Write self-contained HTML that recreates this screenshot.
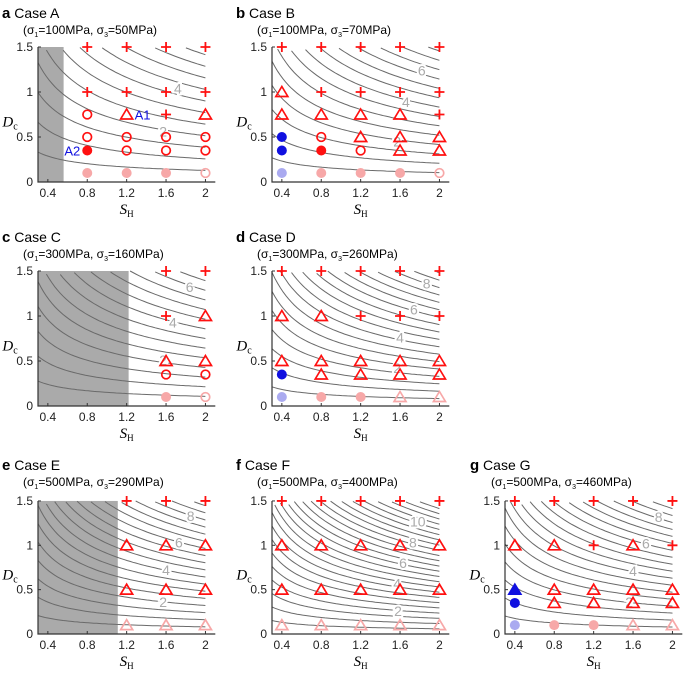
<!DOCTYPE html>
<html><head><meta charset="utf-8"><style>
body{margin:0;background:#fff;}
svg{display:block;font-family:"Liberation Sans",Arial,sans-serif;}
</style></head><body>
<svg id="fig" width="685" height="676" viewBox="0 0 685 676" xmlns="http://www.w3.org/2000/svg"></svg>
<script>
// ---- data ----
const sValues = [0.4, 0.8, 1.2, 1.6, 2];
const dRows = [1.5, 1, 0.75, 0.5, 0.35, 0.1];
const xTicks = [0.4, 0.8, 1.2, 1.6, 2];
const yTicks = [0, 0.5, 1, 1.5];
const yTickLabels = ["0", "0.5", "1", "1.5"];
const contourLevels = [0.5,1,1.5,2,2.5,3,3.5,4,4.5,5,5.5,6,6.5,7,7.5,8,8.5,9,9.5,10,10.5,11,11.5,12];
const panelIds = ["a","b","c","d","e","f","g"];
const panelCases = ["Case A","Case B","Case C","Case D","Case E","Case F","Case G"];
const sigma1 = ["100","100","300","300","500","500","500"];
const sigma3 = ["50","70","160","260","290","400","460"];
const contourK = [2.75, 3.4, 3.3, 4.3, 4.4, 6.0, 4.5];
const grayLimit = [0.56, 0, 1.22, 0, 1.11, 0, 0];
// markers: rows match dRows, columns match sValues
const gridA = [". + + + +", ". + + + +", ". o t + t", ". o o o o", ". O o o o", ". p p p c"];
const gridB = ["+ + + + +", "t + + + +", "t t t t +", "B o t t t", "B O o t t", "L p p p c"];
const gridC = [". . . + +", ". . . + t", ". . . . .", ". . . t t", ". . . o o", ". . . p c"];
const gridD = ["+ + + + +", "t t + + +", ". . . . .", "t t t t t", "B t t t t", "L p p q q"];
const gridE = [". . + + +", ". . t t t", ". . . . .", ". . t t t", ". . . . .", ". . q q q"];
const gridF = ["+ + + + +", "t t t t t", ". . . . .", "t t t t t", ". . . . .", "q q q q q"];
const gridG = ["+ + + + +", "t t + t +", ". . . . .", "T t t t t", "B t t t t", "L p p q q"];
const grids = [gridA, gridB, gridC, gridD, gridE, gridF, gridG];
const labelText = [["2","4"],["2","4","6"],["2","4","6"],["2","4","6","8"],["2","4","6","8"],["2","4","6","8","10"],["2","4","6","8"]];
const labelS = [[1.57,1.72],[1.57,1.66,1.82],[1.57,1.67,1.84],[1.57,1.6,1.74,1.87],[1.57,1.6,1.73,1.85],[1.58,1.57,1.63,1.73,1.78],[1.56,1.6,1.73,1.86]];
const labelD = [[0.56,1.04],[0.45,0.89,1.24],[0.51,0.93,1.32],[0.42,0.76,1.07,1.36],[0.36,0.72,1.03,1.33],[0.26,0.57,0.8,1.03,1.27],[0.36,0.71,1.02,1.32]];

// ---- layout ----
const colX = [38, 272, 505];
const rowY0 = [182, 406, 634];
const rowYs = [90, 90, 88.7];
const panelCol = [0,1,0,1,0,1,2];
const panelRow = [0,0,1,1,2,2,2];
const titleX = [2, 236, 2, 236, 2, 236, 470];
const titleY = [18, 242, 470];

const NS = "http://www.w3.org/2000/svg";
const svg = document.getElementById("fig");
function mk(tag, attrs, parent){
  const e = document.createElementNS(NS, tag);
  for (const k in attrs) e.setAttribute(k, attrs[k]);
  (parent||svg).appendChild(e);
  return e;
}
const RED="#ff1010", PINK="#f7a8a8", BLUE="#1010e0", LBLUE="#aaaaf0";

panelIds.forEach((pid, pi) => {
  const ax = colX[panelCol[pi]], y0 = rowY0[panelRow[pi]], ys = rowYs[panelRow[pi]];
  const xs = 98.5;
  const X = s => ax + (s - 0.3) * xs;
  const Y = d => y0 - d * ys;
  const g = mk("g", {});
  
  

  const t = mk("text", {x: titleX[pi], y: titleY[panelRow[pi]], "font-size": 14}, g);
  
  
  t.innerHTML = '<tspan font-weight="bold" font-size="15">' + pid + '</tspan> ' + panelCases[pi];
  const st = mk("text", {x: titleX[pi] + 21, y: titleY[panelRow[pi]] + 16, "font-size": 12}, g);
  
  
  st.innerHTML = '(σ<tspan font-size="7" dy="3">1</tspan><tspan dy="-3">=' + sigma1[pi] + 'MPa, σ</tspan><tspan font-size="7" dy="3">3</tspan><tspan dy="-3">=' + sigma3[pi] + 'MPa)</tspan>';

  if (grayLimit[pi] > 0) {
    const r = mk("rect", {x: X(0.3), y: Y(1.5), width: X(grayLimit[pi]) - X(0.3), height: Y(0) - Y(1.5), fill: "#aaaaaa"}, g);
    
    
  }

  const k = contourK[pi];
  contourLevels.forEach(lv => {
    let pts = [];
    for (let i = 0; i <= 60; i++) {
      const s = 0.3 + 1.7 * i / 60;
      const d = lv / (k * Math.sqrt(s));
      if (d <= 1.5) pts.push(X(s).toFixed(1) + "," + Y(d).toFixed(1));
    }
    if (pts.length > 1) {
      const p = mk("polyline", {points: pts.join(" "), fill: "none", stroke: "#6a6a6a", "stroke-width": 1}, g);
      
      
    }
  });
  labelText[pi].forEach((lt, li) => {
    const tx = mk("text", {x: X(labelS[pi][li]), y: Y(labelD[pi][li]) + 5, "font-size": 14, fill: "#aaaaaa", "text-anchor": "middle", stroke: "#fff", "stroke-width": 4, "paint-order": "stroke"}, g);
    
    
    tx.textContent = lt;
  });

  const axl = mk("path", {d: "M" + X(0.3) + "," + Y(1.5) + "V" + Y(0) + "H" + X(2.1), fill: "none", stroke: "#333", "stroke-width": 1.2}, g);
  
  
  xTicks.forEach(v => {
    mk("line", {x1: X(v), x2: X(v), y1: Y(0), y2: Y(0) - 3, stroke: "#333"}, g);
    const tl = mk("text", {x: X(v), y: Y(0) + 15, "font-size": 12, "text-anchor": "middle", fill: "#222"}, g);
    
    
    tl.textContent = String(v);
  });
  yTicks.forEach((v, i) => {
    mk("line", {x1: X(0.3), x2: X(0.3) + 3, y1: Y(v), y2: Y(v), stroke: "#333"}, g);
    const tl = mk("text", {x: X(0.3) - 5, y: Y(v) + 4, "font-size": 12, "text-anchor": "end", fill: "#222"}, g);
    
    
    tl.textContent = yTickLabels[i];
  });
  const xt = mk("text", {x: X(1.2), y: Y(0) + 32, "font-size": 15, "font-family": "Liberation Serif, serif", "text-anchor": "middle"}, g);
  
  
  xt.innerHTML = '<tspan font-style="italic">S</tspan><tspan font-size="9" dy="3">H</tspan>';
  const yt = mk("text", {x: X(0.3) - 28, y: Y(0.75) + 12, "font-size": 15, "font-family": "Liberation Serif, serif", "text-anchor": "middle"}, g);
  
  
  yt.innerHTML = '<tspan font-style="italic">D</tspan><tspan font-size="10" dy="3">c</tspan>';

  grids[pi].forEach((row, ri) => {
    row.split(" ").forEach((tok, ci) => {
      if (tok === ".") return;
      const cx = X(sValues[ci]), cy = Y(dRows[ri]);
      let m;
      if (tok === "+") {
        m = mk("path", {d: "M" + (cx-5) + "," + cy + "H" + (cx+5) + "M" + cx + "," + (cy-5) + "V" + (cy+5), stroke: RED, "stroke-width": 1.8, fill: "none"}, g);
      } else if (tok === "o" || tok === "c") {
        m = mk("circle", {cx: cx, cy: cy, r: 4.3, fill: "none", stroke: tok === "o" ? RED : PINK, "stroke-width": 1.7}, g);
      } else if (tok === "O" || tok === "p" || tok === "B" || tok === "L") {
        const col = {O: RED, p: PINK, B: BLUE, L: LBLUE}[tok];
        m = mk("circle", {cx: cx, cy: cy, r: 5, fill: col}, g);
      } else {
        const col = tok === "t" ? RED : tok === "q" ? PINK : BLUE;
        const pts = cx + "," + (cy-5.5) + " " + (cx+6) + "," + (cy+4.5) + " " + (cx-6) + "," + (cy+4.5);
        m = mk("polygon", {points: pts, fill: tok === "T" ? BLUE : "none", stroke: col, "stroke-width": 1.7, "stroke-linejoin": "miter"}, g);
      }
      
      
    });
  });

  if (pid === "a") {
    const a1 = mk("text", {x: X(1.2) + 8, y: Y(0.75) + 5, "font-size": 13, fill: BLUE}, g);
    
    
    a1.textContent = "A1";
    const a2 = mk("text", {x: X(0.8) - 7, y: Y(0.35) + 5, "font-size": 13, fill: BLUE, "text-anchor": "end"}, g);
    
    
    a2.textContent = "A2";
  }
});
</script>
</body></html>
